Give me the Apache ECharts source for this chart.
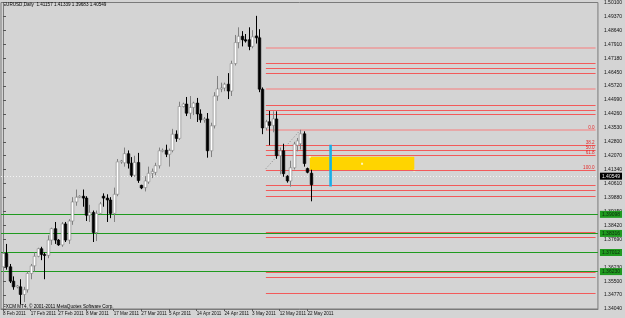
<!DOCTYPE html>
<html><head><meta charset="utf-8">
<script src="https://cdn.jsdelivr.net/npm/echarts@6/dist/echarts.min.js"></script>
<style>html,body{margin:0;padding:0;background:#d4d4d4}#c{width:625px;height:318px}</style>
</head><body><div id="c"></div>
<script>
const dates = ['8 Feb 2011','9 Feb 2011','10 Feb 2011','11 Feb 2011','13 Feb 2011','14 Feb 2011','15 Feb 2011','16 Feb 2011','17 Feb 2011','18 Feb 2011',
'20 Feb 2011','21 Feb 2011','22 Feb 2011','23 Feb 2011','24 Feb 2011','25 Feb 2011','27 Feb 2011','28 Feb 2011','1 Mar 2011','2 Mar 2011',
'3 Mar 2011','4 Mar 2011','6 Mar 2011','7 Mar 2011','8 Mar 2011','9 Mar 2011','10 Mar 2011','11 Mar 2011','13 Mar 2011','14 Mar 2011',
'15 Mar 2011','16 Mar 2011','17 Mar 2011','18 Mar 2011','20 Mar 2011','21 Mar 2011','22 Mar 2011','23 Mar 2011','24 Mar 2011','25 Mar 2011',
'27 Mar 2011','28 Mar 2011','29 Mar 2011','30 Mar 2011','31 Mar 2011','1 Apr 2011','3 Apr 2011','4 Apr 2011','5 Apr 2011','6 Apr 2011',
'7 Apr 2011','8 Apr 2011','10 Apr 2011','11 Apr 2011','12 Apr 2011','13 Apr 2011','14 Apr 2011','15 Apr 2011','17 Apr 2011','18 Apr 2011',
'19 Apr 2011','20 Apr 2011','21 Apr 2011','22 Apr 2011','24 Apr 2011','25 Apr 2011','26 Apr 2011','27 Apr 2011','28 Apr 2011','29 Apr 2011',
'1 May 2011','2 May 2011','3 May 2011','4 May 2011','5 May 2011','6 May 2011','8 May 2011','9 May 2011','10 May 2011','11 May 2011',
'12 May 2011','13 May 2011','15 May 2011','16 May 2011','17 May 2011','18 May 2011','19 May 2011','20 May 2011','22 May 2011','23 May 2011'];
const opens = [1.3625,1.3695,1.3625,1.3550,1.3520,1.3520,1.3480,1.3505,1.3590,1.3630,
1.3680,1.3720,1.3690,1.3685,1.3765,1.3825,1.3765,1.3740,1.3850,1.3765,
1.3865,1.3965,1.3990,1.3995,1.3985,1.3895,1.3910,1.3805,1.3905,1.3995,
1.3985,1.3975,1.3905,1.4005,1.4175,1.4170,1.4218,1.4168,1.4105,1.4172,
1.4052,1.4040,1.4070,1.4115,1.4120,1.4155,1.4233,1.4236,1.4215,1.4235,
1.4320,1.4298,1.4465,1.4478,1.4430,1.4460,1.4483,1.4426,1.4395,1.4400,
1.4233,1.4364,1.4520,1.4557,1.4562,1.4582,1.4546,1.4690,1.4800,1.4833,
1.4815,1.4815,1.4780,1.4835,1.4825,1.4556,1.4353,1.4385,1.4366,1.4400,
1.4207,1.4233,1.4100,1.4075,1.4144,1.4262,1.4270,1.4322,1.4140,1.41157];
const highs = [1.3747,1.3745,1.3640,1.3575,1.3530,1.3560,1.3520,1.3600,1.3640,1.3700,
1.3725,1.3730,1.3700,1.3790,1.3830,1.3860,1.3770,1.3860,1.3860,1.3875,
1.3990,1.4030,1.4000,1.4030,1.3995,1.3950,1.3920,1.3920,1.3965,1.4010,
1.4005,1.3990,1.4040,1.4190,1.4185,1.4250,1.4235,1.4200,1.4207,1.4222,
1.4055,1.4100,1.4150,1.4140,1.4170,1.4250,1.4245,1.4265,1.4245,1.4348,
1.4340,1.4490,1.4485,1.4515,1.4520,1.4490,1.4510,1.4450,1.4410,1.4431,
1.4380,1.4540,1.4625,1.4590,1.4590,1.4640,1.4705,1.4840,1.4880,1.4860,
1.4845,1.4880,1.4865,1.4940,1.4870,1.4565,1.4395,1.4442,1.4440,1.4440,
1.4250,1.4270,1.4105,1.4181,1.4280,1.4300,1.4343,1.4335,1.4145,1.41339];
const lows = [1.3590,1.3610,1.3540,1.3505,1.3512,1.3430,1.3440,1.3490,1.3560,1.3600,
1.3675,1.3660,1.3560,1.3670,1.3740,1.3745,1.3735,1.3730,1.3755,1.3745,
1.3845,1.3945,1.3985,1.3940,1.3865,1.3860,1.3755,1.3760,1.3900,1.3940,
1.3860,1.3880,1.3860,1.3995,1.4165,1.4150,1.4140,1.4095,1.4097,1.4065,
1.4032,1.4020,1.4060,1.4090,1.4105,1.4140,1.4225,1.4200,1.4150,1.4225,
1.4280,1.4290,1.4460,1.4415,1.4400,1.4420,1.4384,1.4380,1.4380,1.4197,
1.4200,1.4350,1.4495,1.4540,1.4545,1.4504,1.4520,1.4680,1.4770,1.4780,
1.4800,1.4760,1.4770,1.4795,1.4540,1.4320,1.4340,1.4262,1.4330,1.4191,
1.4110,1.4097,1.4066,1.4045,1.4135,1.4230,1.4240,1.4150,1.4115,1.39683];
const closes = [1.3695,1.3625,1.3550,1.3520,1.3525,1.3480,1.3505,1.3590,1.3630,1.3680,
1.3720,1.3690,1.3685,1.3765,1.3825,1.3765,1.3740,1.3850,1.3765,1.3865,
1.3965,1.3990,1.3995,1.3985,1.3895,1.3910,1.3805,1.3905,1.3955,1.3985,
1.3975,1.3905,1.4005,1.4175,1.4180,1.4218,1.4168,1.4105,1.4172,1.4077,
1.4038,1.4075,1.4115,1.4125,1.4155,1.4233,1.4236,1.4215,1.4235,1.4320,
1.4298,1.4465,1.4478,1.4430,1.4460,1.4483,1.4426,1.4395,1.4400,1.4233,
1.4364,1.4520,1.4557,1.4562,1.4582,1.4546,1.4690,1.4800,1.4833,1.4815,
1.4808,1.4780,1.4830,1.4825,1.4556,1.4353,1.4385,1.4366,1.4400,1.4207,
1.4233,1.4113,1.4075,1.4144,1.4268,1.4285,1.4322,1.4166,1.4120,1.40549];

const yTicks = [1.5010,1.4937,1.4864,1.4791,1.4718,1.4645,1.4572,1.4499,1.4426,1.4353,1.4280,1.4207,
1.4134,1.4061,1.3988,1.3915,1.3842,1.3769,1.3696,1.3623,1.3550,1.3477,1.3404];
const xTickIdx = [0,8,16,24,32,40,48,56,64,72,80,88];

const greenLevels = [1.39098,1.38316,1.37012,1.36230];
const redLevels = [1.46919,1.46659,1.46398,1.44729,1.44469,1.44260,1.40506,1.40245,1.39932,1.38055,1.37794,1.35969,1.35709,1.34874];
const redLightLevels = [1.47717,1.45564];
const fibLevels = [1.43426,1.42609,1.42357,1.42105,1.41288];
const fibNames = ['0.0','38.2','50.0','61.8','100.0'];
const fibTrend = [[76,1.41392],[86,1.43426]];
const levelStartBar = 76;
const levelEndBar = 171.3;
const lastPrice = 1.40549;
const lastOHLC = [1.41157,1.41339,1.39683,1.40549];
const zoneRect = [[88.7,1.42018],[118.9,1.41288]];
const blueLine = [[94.7,1.42644],[94.7,1.40454]];

const FONT = 'Liberation Sans';
const RED = '#f25a5a', PINK = '#ec9a9a', GREEN = '#1f9a1f';
const candleData = dates.map((d,i)=>[i,opens[i],highs[i],lows[i],closes[i]]);

function seg(v, color, width, label){
  return [{coord:[levelStartBar,v],lineStyle:{color:color,width:width,type:'solid',opacity:1},
           label:label?{show:true,position:'insideEndTop',distance:[1,0],formatter:label,color:'#e52a2a',fontSize:4.6,fontFamily:FONT}:{show:false}},
          {coord:[levelEndBar,v]}];
}
const segData = []
  .concat(redLevels.map(v=>seg(v,RED,1)))
  .concat(redLightLevels.map(v=>seg(v,PINK,1.6)))
  .concat(fibLevels.map((v,i)=>seg(v,i===0?PINK:RED,i===0?1.6:1,fibNames[i])));
const fullData = greenLevels.map(v=>({yAxis:v,lineStyle:{color:GREEN,width:1.2,type:'solid',opacity:1},
    label:{show:true,position:'end',distance:2,formatter:v.toFixed(5),backgroundColor:GREEN,color:'#0c2a0c',fontSize:5,fontFamily:FONT,padding:[1,2]}}))
  .concat([{yAxis:lastPrice,lineStyle:{color:'#f4f4f4',width:1,type:[1,2],opacity:1},
    label:{show:true,position:'end',distance:2,formatter:lastPrice.toFixed(5),backgroundColor:'#000',color:'#e8e8e8',fontSize:5,fontFamily:FONT,padding:[1,2]}}]);

const chart = echarts.init(document.getElementById('c'), null, {renderer:'canvas'});
chart.setOption({
  backgroundColor:'#d4d4d4',
  animation:false,
  grid:{left:1,right:23,top:1,bottom:9,show:true,borderColor:'#7a7a7a',borderWidth:1,backgroundColor:'transparent'},
  xAxis:{type:'value',min:-0.574,max:171.98,
    axisLine:{show:true,lineStyle:{color:'#7a7a7a',width:1}},
    axisTick:{show:true,customValues:xTickIdx,length:2,lineStyle:{color:'#555'}},
    axisLabel:{customValues:xTickIdx,formatter:v=>dates[Math.round(v)]||'',align:'left',margin:2,fontSize:4.6,fontFamily:FONT,color:'#111'},
    splitLine:{show:false}},
  yAxis:{type:'value',position:'right',min:1.3404,max:1.5010,
    axisLine:{show:true,lineStyle:{color:'#7a7a7a',width:1}},
    axisTick:{show:true,customValues:yTicks,length:3,lineStyle:{color:'#555'}},
    axisLabel:{customValues:yTicks,formatter:v=>v.toFixed(5),margin:6,fontSize:5,fontFamily:FONT,color:'#111'},
    splitLine:{show:false}},
  graphic:[
    {type:'text',left:3,top:2,style:{text:'EURUSD,Daily  '+lastOHLC.map(v=>v.toFixed(5)).join(' '),fontSize:4.6,fontFamily:FONT,fill:'#000'}},
    {type:'text',left:3,top:304,style:{text:'FXCM MT4, \u00a9 2001-2011 MetaQuotes Software Corp.',fontSize:4.6,fontFamily:FONT,fill:'#000'}}
  ],
  series:[
    {type:'line',name:'levels',data:[],z:2,
      markLine:{silent:true,symbol:['none','none'],animation:false,emphasis:{disabled:true},data:segData}},
    {type:'custom',name:'fibTrend',clip:true,z:3,data:[0],
      renderItem:(p,api)=>{
        const a=api.coord(fibTrend[0]), b=api.coord(fibTrend[1]);
        return {type:'line',shape:{x1:a[0],y1:a[1],x2:b[0],y2:b[1]},style:{stroke:'#8a8a8a',lineWidth:1,lineDash:[1,2]}};
      }},
    {type:'custom',name:'zone',clip:true,z:4,data:[0],
      renderItem:(p,api)=>{
        const a=api.coord(zoneRect[0]), b=api.coord(zoneRect[1]);
        const cx=(a[0]+b[0])/2, cy=(a[1]+b[1])/2;
        return {type:'group',children:[
          {type:'rect',shape:{x:a[0],y:a[1],width:b[0]-a[0],height:b[1]-a[1]},style:{fill:'#ffd400'}},
          {type:'rect',shape:{x:cx-1,y:cy-1,width:2,height:2},style:{fill:'#fff5c0'}},
          {type:'rect',shape:{x:a[0]-1,y:a[1]-1,width:2,height:2},style:{fill:'#fff5c0'}},
          {type:'rect',shape:{x:b[0]-1,y:b[1]-1,width:2,height:2},style:{fill:'#fff5c0'}}
        ]};
      }},
    {type:'custom',name:'vline',clip:true,z:5,data:[0],
      renderItem:(p,api)=>{
        const a=api.coord(blueLine[0]), b=api.coord(blueLine[1]);
        return {type:'line',shape:{x1:a[0],y1:a[1],x2:b[0],y2:b[1]},style:{stroke:'#19aee8',lineWidth:2.6}};
      }},
    {type:'custom',name:'EURUSD',clip:true,z:6,data:candleData,
      renderItem:(p,api)=>{
        const i=api.value(0),o=api.value(1),h=api.value(2),l=api.value(3),c=api.value(4);
        const pO=api.coord([i,o]),pC=api.coord([i,c]),pH=api.coord([i,h]),pL=api.coord([i,l]);
        const x=Math.round(pO[0])+0.5;
        const bull=c>=o;
        const top=Math.min(pO[1],pC[1]), bot=Math.max(pO[1],pC[1]);
        const col=bull?'#808080':'#000';
        return {type:'group',children:[
          {type:'line',shape:{x1:x,y1:pH[1],x2:x,y2:pL[1]},style:{stroke:col,lineWidth:1}},
          {type:'rect',shape:{x:x-1.3,y:top,width:2.6,height:Math.max(bot-top,1)},style:{fill:bull?'#ffffff':'#000000',stroke:col,lineWidth:0.6}}
        ]};
      }},
    {type:'line',name:'marks',data:[],z:7,
      markLine:{silent:true,symbol:['none','none'],animation:false,emphasis:{disabled:true},data:fullData}}
  ]
});
</script></body></html>
